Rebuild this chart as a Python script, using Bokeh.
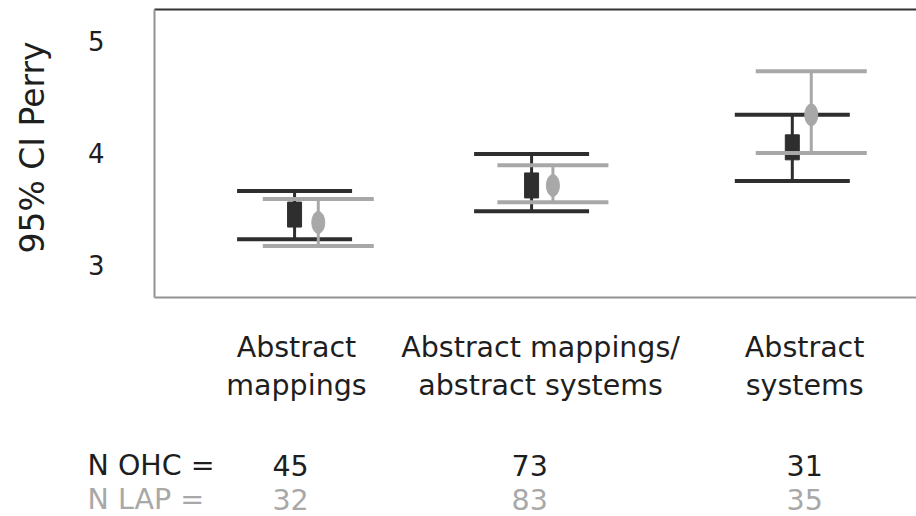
import math
from bokeh.plotting import figure
from bokeh.models import Range1d, ColumnDataSource
from bokeh.core.properties import value
from bokeh.embed import file_html
from bokeh.resources import INLINE

# ---------------- data ----------------
categories = ["Abstract\nmappings", "Abstract mappings/\nabstract systems", "Abstract\nsystems"]
cat_x = [1.008, 2.038, 3.152]       # category label positions
ohc_x = [1.00, 2.00, 3.10]          # OHC (dark) positions
lap_x = [1.10, 2.09, 3.18]          # LAP (grey) positions
ohc_mean = [3.45, 3.71, 4.05]
ohc_lo = [3.23, 3.48, 3.75]
ohc_hi = [3.66, 3.99, 4.34]
lap_mean = [3.38, 3.71, 4.34]
lap_lo = [3.17, 3.56, 4.00]
lap_hi = [3.59, 3.89, 4.73]
n_ohc = [45, 73, 31]
n_lap = [32, 83, 35]
n_x = [0.983, 1.992, 3.152]
y_ticks = [3, 4, 5]
y_title = "95% CI Perry"
row_titles = ["N OHC =", "N LAP ="]

# ---------------- style / layout ----------------
FONT = value("DejaVu Sans")
DARK = "#2e2e2e"
GREY = "#a8a8a8"
TEXT_DARK = "#1e1e1e"
X0, X1 = 0.409, 3.624          # plot panel x extent
Y0, Y1 = 2.71, 5.28            # plot panel y extent
W, H = 916, 516
LEFT, TOP, BOTTOM = 154, 9, 219
PPU = (W - LEFT) / (X1 - X0)
PPY = (H - TOP - BOTTOM) / (Y1 - Y0)
XL = X0 - LEFT / PPU
YT = Y1 + TOP / PPY
YB = YT - H / PPY
CAP_OHC = 57.5 / PPU
CAP_LAP = 55.5 / PPU


def xpx(px):
    return XL + px / PPU


def ypx(px):
    return YT - px / PPY


p = figure(width=W, height=H, x_range=Range1d(XL, X1), y_range=Range1d(YB, YT),
           output_backend="svg", toolbar_location=None,
           min_border_left=0, min_border_right=0, min_border_top=0, min_border_bottom=0)
p.outline_line_color = None
p.grid.visible = False
p.axis.visible = False

# panel borders (top dark, left & bottom grey, no right edge)
p.segment(x0=[X0], y0=[Y1], x1=[X1], y1=[Y1], line_color="#333333", line_width=2)
p.segment(x0=[X0, X0], y0=[Y0, Y0], x1=[X1, X0], y1=[Y0, Y1], line_color="#939393", line_width=2)

# y tick labels and title
p.text(x=[xpx(104)] * len(y_ticks), y=y_ticks, text=[str(t) for t in y_ticks], text_font=FONT,
       text_font_size="26px", text_align="right", text_baseline="middle", text_color=TEXT_DARK)
p.text(x=[xpx(32)], y=[ypx(147)], text=[y_title], angle=math.pi / 2, text_font=FONT,
       text_font_size="33px", text_align="center", text_baseline="middle", text_color=TEXT_DARK)

ohc = ColumnDataSource(dict(x=ohc_x, m=ohc_mean, lo=ohc_lo, hi=ohc_hi,
                            xl=[v - CAP_OHC for v in ohc_x], xr=[v + CAP_OHC for v in ohc_x]))
lap = ColumnDataSource(dict(x=lap_x, m=lap_mean, lo=lap_lo, hi=lap_hi,
                            xl=[v - CAP_LAP for v in lap_x], xr=[v + CAP_LAP for v in lap_x]))

for src, col in ((ohc, DARK), (lap, GREY)):
    p.segment(x0="x", y0="lo", x1="x", y1="hi", source=src, line_color=col, line_width=3)
    p.segment(x0="xl", y0="lo", x1="xr", y1="lo", source=src, line_color=col, line_width=4)
    p.segment(x0="xl", y0="hi", x1="xr", y1="hi", source=src, line_color=col, line_width=4)
    if src is ohc:
        p.rect(x="x", y="m", width=14, height=25, width_units="screen", height_units="screen",
               source=src, fill_color=col, line_color=col)
    else:
        p.ellipse(x="x", y="m", width=13, height=22, width_units="screen", height_units="screen",
                  source=src, fill_color=col, line_color=col)

# ---------------- texts below the panel ----------------
p.text(x=cat_x, y=[ypx(366)] * 3, text=categories, text_font=FONT, text_font_size="28.5px",
       text_align="center", text_baseline="middle", text_color=TEXT_DARK, text_line_height=1.15)
p.text(x=[xpx(87)] * 2, y=[ypx(465), ypx(499)], text=row_titles, text_font=FONT,
       text_font_size="28.5px", text_align="left", text_baseline="middle",
       text_color=[TEXT_DARK, GREY])
p.text(x=n_x, y=[ypx(465)] * 3, text=[str(v) for v in n_ohc], text_font=FONT,
       text_font_size="28.5px", text_align="center", text_baseline="middle", text_color=TEXT_DARK)
p.text(x=n_x, y=[ypx(499)] * 3, text=[str(v) for v in n_lap], text_font=FONT,
       text_font_size="28.5px", text_align="center", text_baseline="middle", text_color=GREY)

open("out.html", "w").write(file_html(p, INLINE))
